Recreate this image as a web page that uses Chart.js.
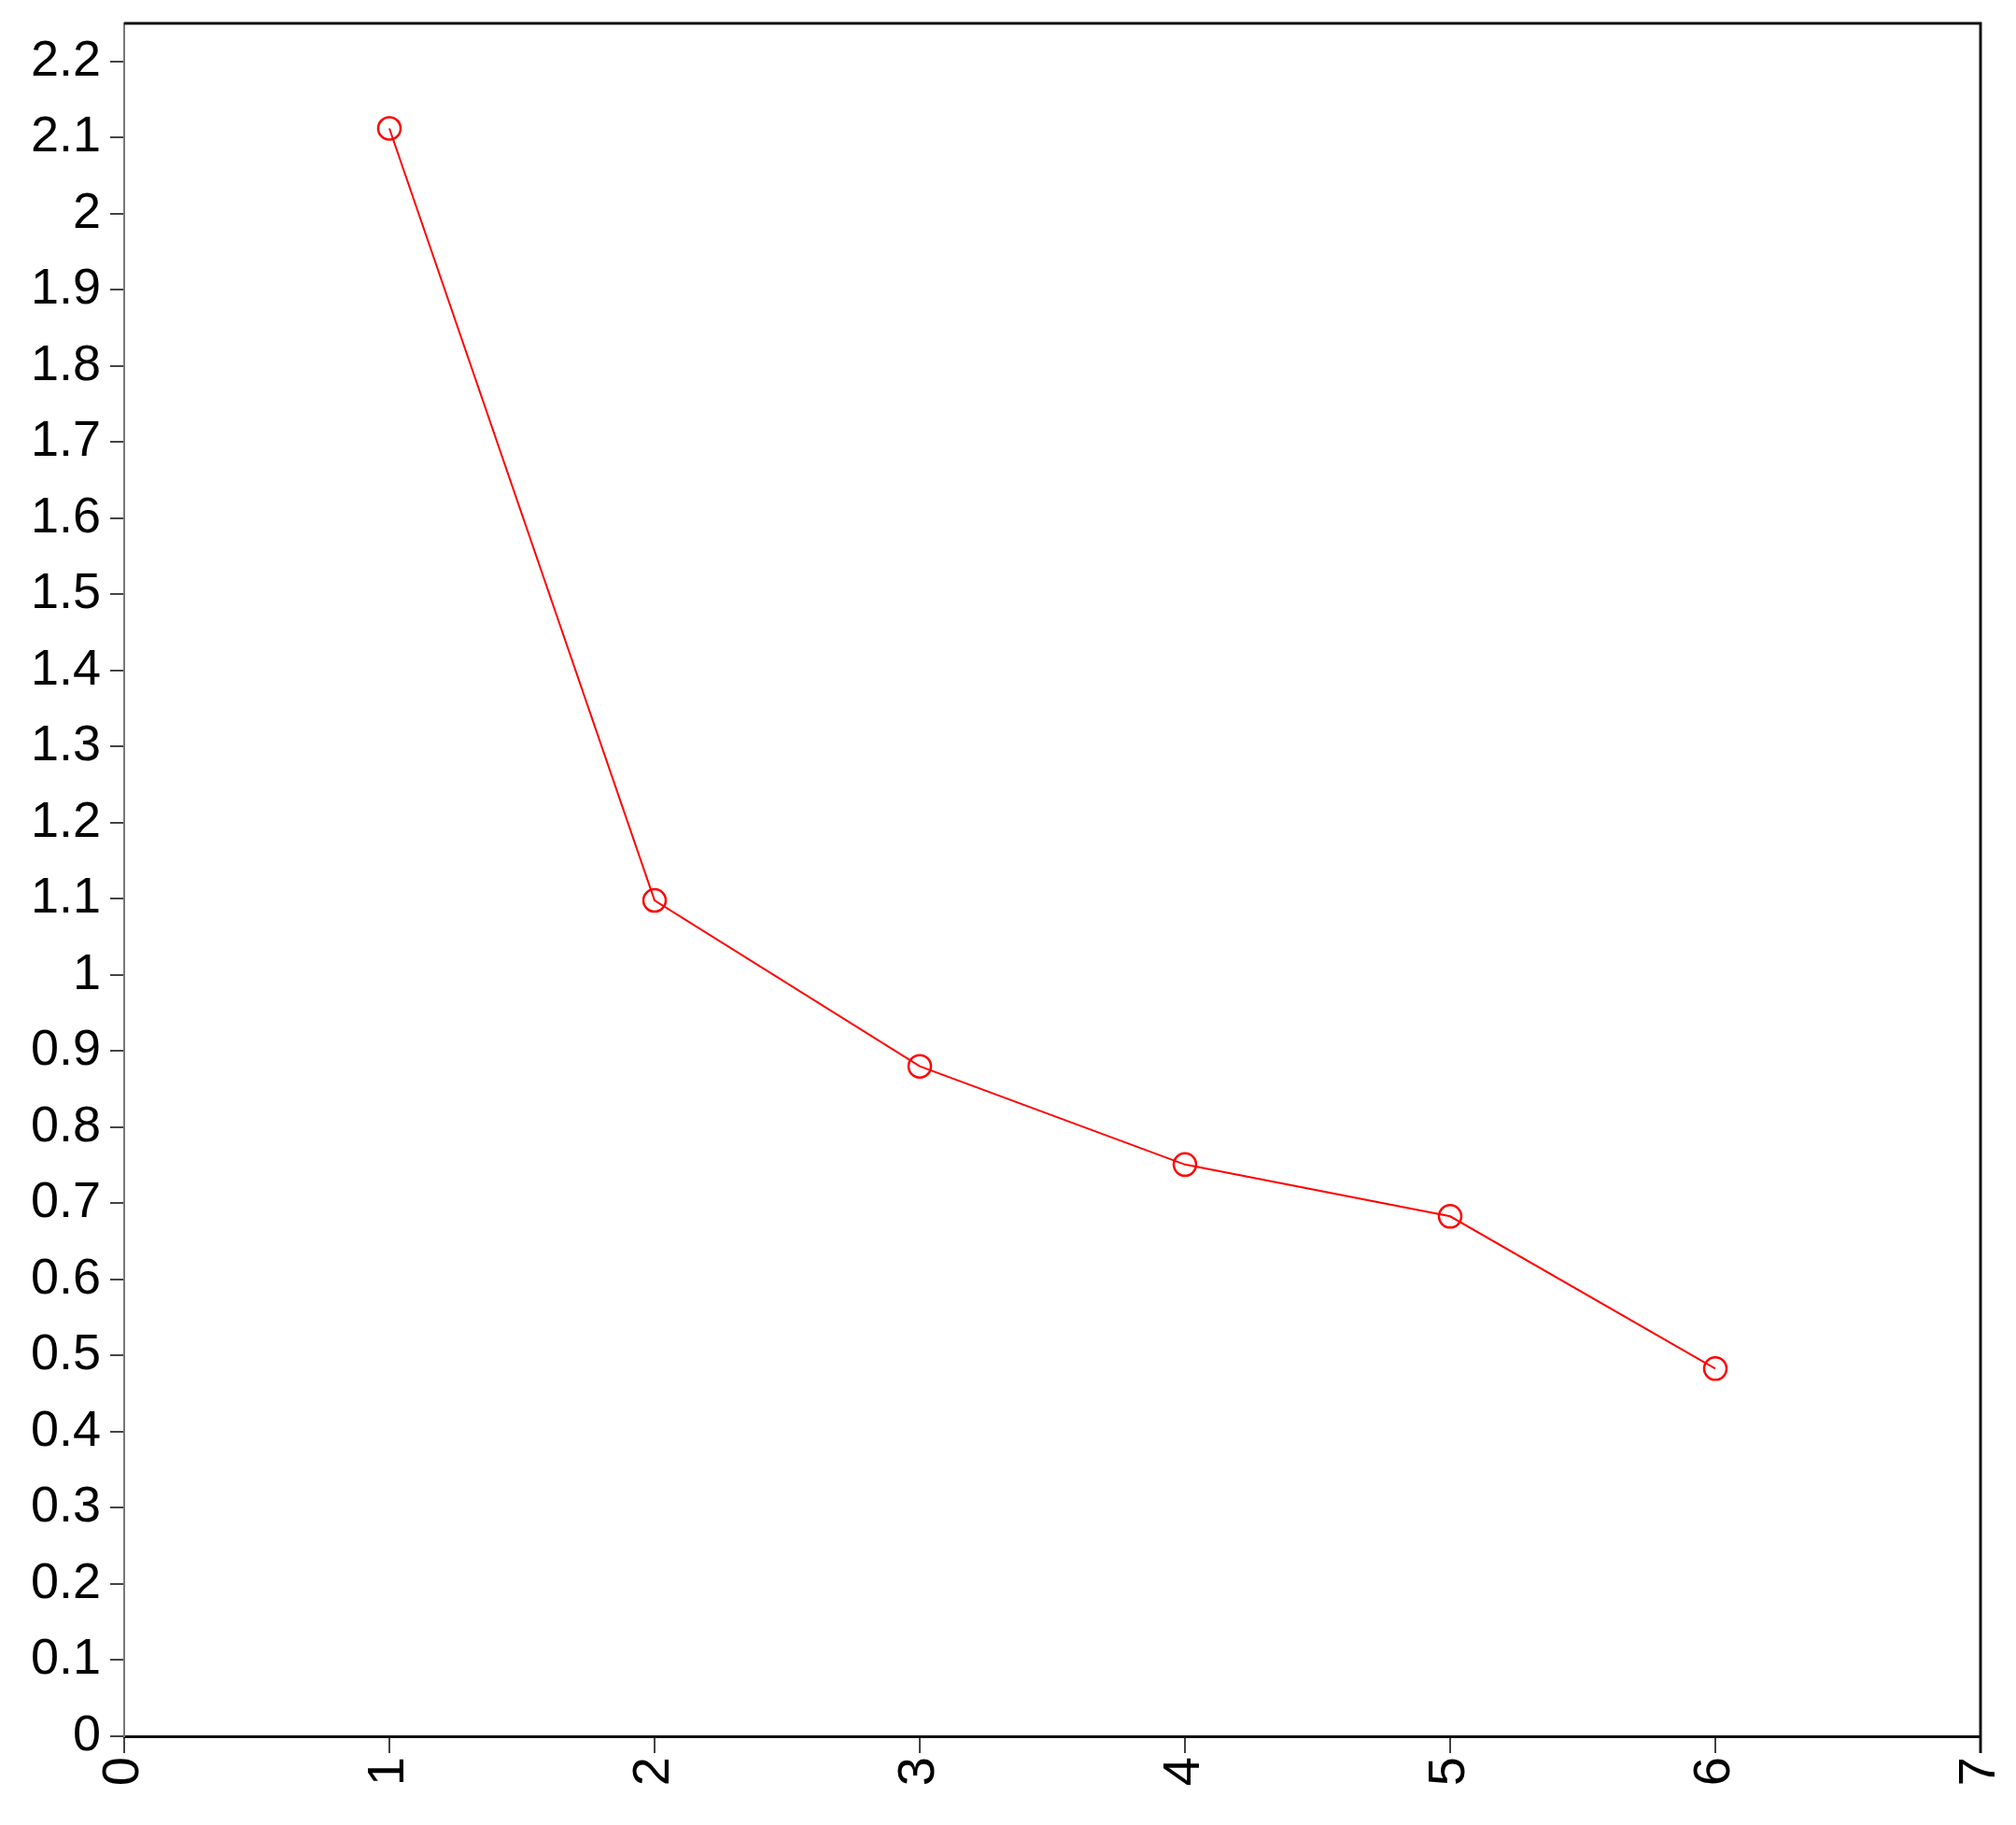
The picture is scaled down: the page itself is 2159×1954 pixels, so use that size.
<!DOCTYPE html>
<html>
<head>
<meta charset="utf-8">
<script src="https://cdn.jsdelivr.net/npm/chart.js@4.4.0/dist/chart.umd.min.js"></script>
<style>
  html, body { margin: 0; padding: 0; background: #fff; }
  #wrap { width: 2159px; height: 1954px; }
</style>
</head>
<body>
<div id="wrap"><canvas id="lineChart"></canvas></div>
<script>
// data
const xValues = [1, 2, 3, 4, 5, 6];
const yValues = [2.112, 1.098, 0.880, 0.751, 0.683, 0.483];
const yTicks = [0, 0.1, 0.2, 0.3, 0.4, 0.5, 0.6, 0.7, 0.8, 0.9, 1, 1.1,
                1.2, 1.3, 1.4, 1.5, 1.6, 1.7, 1.8, 1.9, 2, 2.1, 2.2];

const points = xValues.map(function(x, i) {
    return { x: x, y: yValues[i] };
});

// outline on top and right of the plot
const frameLines = {
    id: 'frameLines',
    afterDraw: function(chart) {
        const a = chart.chartArea;
        const ctx = chart.ctx;
        ctx.save();
        ctx.strokeStyle = '#111';
        ctx.lineWidth = 3;
        ctx.beginPath();
        ctx.moveTo(a.left, a.top);
        ctx.lineTo(a.right, a.top);
        ctx.lineTo(a.right, a.bottom + 18);
        ctx.stroke();
        ctx.restore();
    }
};

const config = {
    type: 'line',
    data: {
        datasets: [{
            data: points,
            borderColor: '#ff0000',
            borderWidth: 2,
            backgroundColor: 'rgba(0,0,0,0)',
            pointStyle: 'circle',
            pointRadius: 12,
            pointBorderWidth: 2.5,
            pointBorderColor: '#ff0000',
            pointBackgroundColor: 'rgba(0,0,0,0)',
            tension: 0
        }]
    },
    options: {
        responsive: true,
        maintainAspectRatio: false,
        animation: false,
        layout: { padding: { top: 25, right: 38, left: 0, bottom: 0 } },
        plugins: {
            legend: { display: false },
            tooltip: { enabled: false }
        },
        scales: {
            x: {
                type: 'linear',
                min: 0,
                max: 7,
                ticks: {
                    stepSize: 1,
                    color: '#000',
                    font: { family: '"Liberation Sans", Arial, sans-serif', size: 56 },
                    maxRotation: 90,
                    minRotation: 90,
                    padding: 4
                },
                grid: {
                    drawOnChartArea: false,
                    drawTicks: true,
                    tickLength: 18,
                    color: '#444',
                    lineWidth: 2
                },
                border: { color: '#111', width: 3 },
                afterFit: function(scale) {
                    scale.height = 95;
                    scale.paddingLeft = 0;
                    scale.paddingRight = 0;
                }
            },
            y: {
                min: 0,
                max: 2.25,
                afterBuildTicks: function(scale) {
                    scale.ticks = yTicks.map(function(v) { return { value: v }; });
                },
                ticks: {
                    color: '#000',
                    font: { family: '"Liberation Sans", Arial, sans-serif', size: 54 },
                    padding: 10,
                    callback: function(v) {
                        return Math.round(v * 10) / 10;
                    }
                },
                grid: {
                    drawOnChartArea: false,
                    drawTicks: true,
                    tickLength: 15,
                    color: '#444',
                    lineWidth: 2
                },
                border: { color: '#777', width: 2 },
                afterFit: function(scale) {
                    scale.width = 133;
                    scale.paddingTop = 0;
                    scale.paddingBottom = 0;
                }
            }
        }
    },
    plugins: [frameLines]
};

new Chart(document.getElementById('lineChart'), config);
</script>
</body>
</html>
